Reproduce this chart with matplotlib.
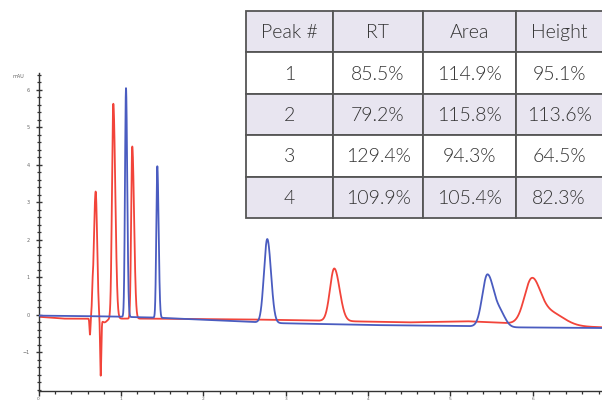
import numpy as np
import matplotlib
matplotlib.use("Agg")
import matplotlib.pyplot as plt
from matplotlib.patches import Rectangle
from matplotlib.ticker import MultipleLocator

# ---- chromatogram peaks: retention time (min), height above baseline (mAU),
# left / right widths (min). Negative heights are system dips.
red_rt = [0.625, 0.655, 0.694, 0.755, 0.80, 0.908, 1.138, 3.59, 5.985, 6.20]
red_height = [-0.45, 0.30, 3.39, -1.50, -0.10, 5.73, 4.59, 1.40, 1.08, 0.35]
red_sig_l = [0.006, 0.005, 0.022, 0.007, 0.03, 0.016, 0.013, 0.052, 0.087, 0.17]
red_sig_r = [0.006, 0.005, 0.018, 0.007, 0.03, 0.024, 0.022, 0.065, 0.10, 0.17]

blue_rt = [1.062, 1.442, 2.777, 5.45, 5.62]
blue_height = [6.10, 4.04, 2.23, 1.40, 0.25]
blue_sig_l = [0.012, 0.012, 0.040, 0.062, 0.05]
blue_sig_r = [0.015, 0.016, 0.045, 0.085, 0.06]

# ---- baseline drift (min, mAU)
red_base_t = [0.0, 0.3, 0.6, 1.3, 2.5, 3.3, 4.0, 4.5, 5.2, 5.5, 6.4, 6.84]
red_base_v = [-0.05, -0.10, -0.10, -0.10, -0.12, -0.15, -0.18, -0.20, -0.17, -0.20, -0.30, -0.33]
blue_base_t = [0.0, 0.5, 1.0, 1.5, 2.3, 2.9, 4.0, 5.2, 5.6, 6.84]
blue_base_v = [-0.02, -0.03, -0.05, -0.08, -0.16, -0.22, -0.27, -0.30, -0.33, -0.35]

# ---- summary table
table_header = ["Peak #", "RT", "Area", "Height"]
peak_ids = ["1", "2", "3", "4"]
rt_pct = ["85.5%", "79.2%", "129.4%", "109.9%"]
area_pct = ["114.9%", "115.8%", "94.3%", "105.4%"]
height_pct = ["95.1%", "113.6%", "64.5%", "82.3%"]

x_ticks = [0, 1, 2, 3, 4, 5, 6]
y_ticks = [-1, 0, 1, 2, 3, 4, 5, 6]


def trace(t, rts, heights, sl, sr, base_t, base_v):
    y = np.interp(t, base_t, base_v)
    for c, h, a, b in zip(rts, heights, sl, sr):
        s = np.where(t < c, a, b)
        y = y + h * np.exp(-0.5 * ((t - c) / s) ** 2)
    return y


t = np.linspace(0, 6.84, 20000)
red = trace(t, red_rt, red_height, red_sig_l, red_sig_r, red_base_t, red_base_v)
blue = trace(t, blue_rt, blue_height, blue_sig_l, blue_sig_r, blue_base_t, blue_base_v)

W, H = 602, 401
fig = plt.figure(figsize=(W / 100, H / 100), dpi=100)
fig.patch.set_facecolor("white")

ax = fig.add_axes([38.5 / W, (H - 391) / H, (W - 38.5) / W, (391 - 73) / H])
ax.plot(t, blue, color="#4a5cc0", lw=1.3, zorder=3)
ax.plot(t, red, color="#f2443a", lw=1.3, zorder=2)
ax.set_xlim(0, 6.84)
ax.set_ylim(-2.03, 6.45)
for side in ("top", "right"):
    ax.spines[side].set_visible(False)
for side in ("left", "bottom"):
    ax.spines[side].set_color("#333333")
    ax.spines[side].set_linewidth(1.0)
ax.set_xticks(x_ticks)
ax.set_yticks(y_ticks)
ax.xaxis.set_minor_locator(MultipleLocator(0.2))
ax.yaxis.set_minor_locator(MultipleLocator(0.2))
ax.tick_params(axis="x", which="major", direction="out", length=3.5, width=1.0,
               color="#333333", labelsize=3.2, labelcolor="#666666", pad=0.5)
ax.tick_params(axis="x", which="minor", direction="out", length=2.5, width=0.9, color="#333333")
ax.tick_params(axis="y", which="major", direction="inout", length=5, width=1.0,
               color="#333333", labelsize=3.5, labelcolor="#666666", pad=4)
ax.tick_params(axis="y", which="minor", direction="inout", length=3, width=0.9, color="#333333")
fig.text(18 / W, 1 - 76 / H, "mAU", fontsize=3.5, color="#666666", ha="center", va="center")

# ---- table overlay in pixel coordinates
ov = fig.add_axes([0, 0, 1, 1])
ov.set_xlim(0, W)
ov.set_ylim(H, 0)
ov.axis("off")
col_edges = [246, 333, 423, 516, 606]
row_edges = np.linspace(11, 218, 6)
rows = [table_header] + [list(r) for r in zip(peak_ids, rt_pct, area_pct, height_pct)]
shade = "#e8e5f0"
for i, row in enumerate(rows):
    fc = shade if i % 2 == 0 else "white"
    y0, y1 = row_edges[i], row_edges[i + 1]
    for j, txt in enumerate(row):
        x0, x1 = col_edges[j], col_edges[j + 1]
        ov.add_patch(Rectangle((x0, y0), x1 - x0, y1 - y0, facecolor=fc,
                               edgecolor="#555555", lw=1.3, zorder=5))
        xc = (x0 + min(x1, 602)) / 2
        ov.text(xc, (y0 + y1) / 2 + 1, txt, ha="center", va="center",
                fontsize=14, family="Lato", fontweight=300,
                color="#333333", zorder=6)

fig.savefig("out.png", dpi=100)
